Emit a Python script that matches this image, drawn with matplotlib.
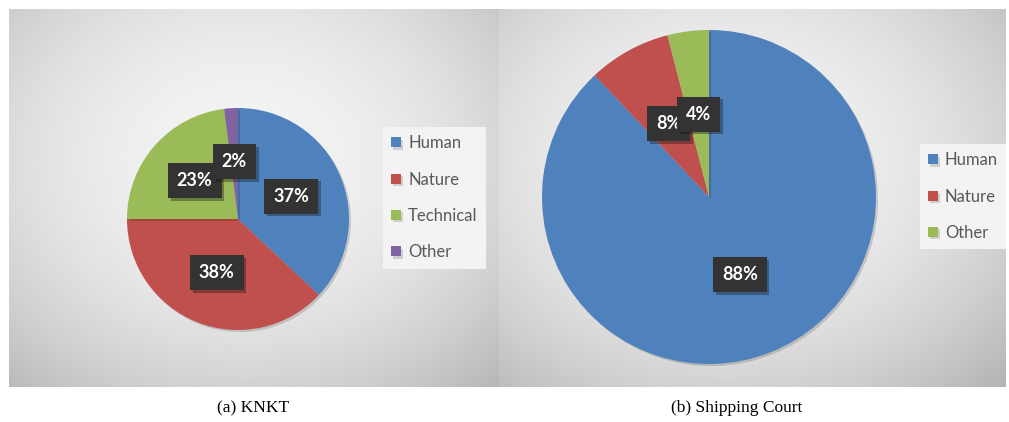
import numpy as np
import matplotlib
matplotlib.use('Agg')
import matplotlib.pyplot as plt
import matplotlib.patheffects as pe

# data
knkt_labels = ['Human', 'Nature', 'Technical', 'Other']
knkt_values = [37, 38, 23, 2]
knkt_colors = ['#4F81BD', '#C0504D', '#9BBB59', '#8064A2']

court_labels = ['Human', 'Nature', 'Other']
court_values = [88, 8, 4]
court_colors = ['#4F81BD', '#C0504D', '#9BBB59']

captions = ['(a) KNKT', '(b) Shipping Court']

W, H = 1009, 422
fig = plt.figure(figsize=(W / 100, H / 100), dpi=100)
fig.patch.set_facecolor('white')


def px(x, y, w, h):
    # pixel box (top-left origin) -> figure fraction
    return [x / W, 1 - (y + h) / H, w / W, h / H]


def panel_bg(box, cx=0.5, cy=0.45):
    ax = fig.add_axes(px(*box))
    ny, nx = 200, 260
    yy, xx = np.mgrid[0:1:ny * 1j, 0:1:nx * 1j]
    r2 = ((xx - cx) / 0.75) ** 2 + ((yy - cy) / 0.8) ** 2
    img = np.clip(0.955 - 0.23 * r2, 0, 1)
    ax.imshow(img, cmap='gray', vmin=0, vmax=1, aspect='auto',
              extent=(0, 1, 1, 0), interpolation='bilinear')
    ax.set_xlim(0, 1)
    ax.set_ylim(1, 0)
    ax.axis('off')
    return ax


def draw_pie(box, values, colors, pctdist):
    ax = fig.add_axes(px(*box))
    wedges, texts, autotexts = ax.pie(
        values, colors=colors, startangle=90, counterclock=False,
        autopct=lambda p: f'{p:.0f}%', pctdistance=pctdist,
        wedgeprops=dict(linewidth=0),
        textprops=dict(color='white', fontsize=13, fontweight='bold',
                       family=['Lato', 'DejaVu Sans']))
    for w in wedges:
        w.set_path_effects([pe.SimplePatchShadow(offset=(1.5, -1.5), alpha=0.15,
                                                 shadow_rgbFace='black'),
                            pe.Normal()])
    for t in autotexts:
        t.set_bbox(dict(boxstyle='square,pad=0.5', facecolor='#333333',
                        edgecolor='none'))
        t.get_bbox_patch().set_path_effects(
            [pe.SimplePatchShadow(offset=(2, -2), alpha=0.35), pe.Normal()])
        t.set_zorder(5)
    ax.set_xlim(-1, 1)
    ax.set_ylim(-1, 1)
    ax.set_aspect('equal')
    return ax, wedges


def add_legend(wedges, labels, anchor):
    leg = fig.legend(wedges, labels, loc='upper left',
                     bbox_to_anchor=(anchor[0] / W, 1 - anchor[1] / H),
                     bbox_transform=fig.transFigure,
                     frameon=True, fancybox=False, framealpha=1,
                     facecolor='#f3f3f3', edgecolor='none',
                     prop=dict(family=['Lato', 'DejaVu Sans'], size=12),
                     handlelength=0.55, handleheight=0.55, handletextpad=0.45,
                     labelspacing=1.22, borderpad=0.5, borderaxespad=0)
    for t in leg.get_texts():
        t.set_color('#595959')
    return leg


# panel backgrounds
panel_bg((9, 9, 489, 378), cx=0.48, cy=0.4)
panel_bg((499, 9, 507, 378), cx=0.45, cy=0.4)

# (a) KNKT
ax1, w1 = draw_pie((127, 108, 222, 222), knkt_values, knkt_colors, 0.52)
add_legend(w1, knkt_labels, (383, 127))

# (b) Shipping Court
ax2, w2 = draw_pie((542, 30, 334, 334), court_values, court_colors, 0.5)
add_legend(w2, court_labels, (920, 144))

# captions
for txt, x in zip(captions, [253, 737]):
    fig.text(x / W, 1 - 408 / H, txt, ha='center', va='center',
             family=['Liberation Serif', 'DejaVu Serif'], fontsize=12.5)

fig.savefig('out.png', dpi=100)
